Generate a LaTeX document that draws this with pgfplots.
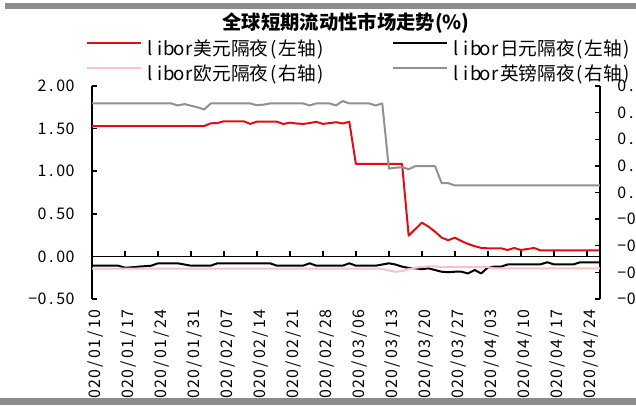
\documentclass[border=0pt]{standalone}
\usepackage{pgfplots}
\pgfplotsset{compat=1.18}
\usepackage{pgfplotstable}
\usepackage{fontspec}
\setmainfont{Noto Sans CJK SC}
\definecolor{usdred}{RGB}{222,14,22}
\definecolor{eurpink}{RGB}{248,194,198}
\definecolor{gbpgray}{RGB}{145,145,145}
\definecolor{bargray}{RGB}{140,140,140}
\makeatletter
\newcommand\mono[2][7pt]{\@tfor\mono@c:=#2\do{\makebox[#1]{\mono@c}}}
\makeatother

\pgfplotstableread{
x usd jpy eur gbp
0 1.53 -0.109 -0.571 0.669
1 1.53 -0.109 -0.571 0.669
2 1.53 -0.109 -0.571 0.669
3 1.53 -0.109 -0.571 0.669
4 1.53 -0.109 -0.571 0.669
5 1.53 -0.133 -0.571 0.669
6 1.53 -0.128 -0.571 0.669
7 1.53 -0.120 -0.571 0.669
8 1.53 -0.115 -0.571 0.669
9 1.53 -0.109 -0.571 0.669
10 1.53 -0.081 -0.571 0.669
11 1.53 -0.081 -0.571 0.669
12 1.53 -0.081 -0.571 0.669
13 1.53 -0.081 -0.571 0.654
14 1.53 -0.095 -0.571 0.664
15 1.53 -0.109 -0.571 0.652
16 1.53 -0.109 -0.571 0.640
17 1.53 -0.109 -0.571 0.624
18 1.562 -0.109 -0.571 0.669
19 1.565 -0.081 -0.571 0.669
20 1.586 -0.081 -0.571 0.669
21 1.586 -0.081 -0.571 0.669
22 1.586 -0.081 -0.571 0.669
23 1.586 -0.081 -0.571 0.669
24 1.555 -0.081 -0.571 0.669
25 1.582 -0.081 -0.571 0.656
26 1.582 -0.081 -0.571 0.660
27 1.582 -0.081 -0.571 0.669
28 1.582 -0.109 -0.571 0.669
29 1.554 -0.109 -0.571 0.669
30 1.570 -0.109 -0.571 0.669
31 1.560 -0.109 -0.571 0.669
32 1.555 -0.109 -0.571 0.669
33 1.565 -0.081 -0.571 0.654
34 1.580 -0.109 -0.571 0.669
35 1.555 -0.109 -0.571 0.669
36 1.565 -0.109 -0.571 0.669
37 1.575 -0.109 -0.571 0.654
38 1.560 -0.109 -0.571 0.687
39 1.580 -0.081 -0.571 0.669
40 1.085 -0.109 -0.571 0.669
41 1.085 -0.109 -0.571 0.669
42 1.085 -0.109 -0.571 0.669
43 1.085 -0.109 -0.571 0.654
44 1.085 -0.095 -0.575 0.669
45 1.085 -0.081 -0.585 0.180
46 1.085 -0.095 -0.595 0.186
47 1.085 -0.120 -0.590 0.190
48 0.243 -0.135 -0.575 0.175
49 0.320 -0.140 -0.565 0.198
50 0.396 -0.150 -0.560 0.198
51 0.350 -0.140 -0.555 0.198
52 0.290 -0.160 -0.555 0.198
53 0.220 -0.180 -0.560 0.070
54 0.190 -0.185 -0.560 0.070
55 0.220 -0.180 -0.560 0.053
56 0.180 -0.180 -0.560 0.053
57 0.146 -0.200 -0.560 0.053
58 0.120 -0.160 -0.560 0.053
59 0.100 -0.200 -0.560 0.053
60 0.095 -0.130 -0.560 0.053
61 0.095 -0.120 -0.570 0.053
62 0.095 -0.120 -0.570 0.053
63 0.075 -0.095 -0.570 0.053
64 0.099 -0.093 -0.570 0.053
65 0.075 -0.093 -0.570 0.053
66 0.087 -0.093 -0.570 0.053
67 0.099 -0.093 -0.570 0.053
68 0.070 -0.093 -0.570 0.053
69 0.070 -0.069 -0.570 0.053
70 0.070 -0.093 -0.570 0.053
71 0.070 -0.093 -0.570 0.053
72 0.070 -0.093 -0.570 0.053
73 0.070 -0.093 -0.570 0.053
74 0.070 -0.069 -0.570 0.053
75 0.070 -0.069 -0.570 0.053
76 0.070 -0.069 -0.570 0.053
77 0.070 -0.069 -0.570 0.053
}\rates

\begin{document}
\begin{tikzpicture}[x=0.75pt,y=0.75pt]
\begin{scope}
\clip (0,8) rectangle (636,405);
\begin{axis}[
  at={(69pt,79.5pt)}, anchor=south west,
  scale only axis, width=381pt, height=159.75pt,
  xmin=0, xmax=77, ymin=-0.5, ymax=2,
  axis y line*=left, axis x line*=bottom,
  x axis line style={draw=none},
  y axis line style={line width=1.1pt,-},
  tick align=inside, major tick length=4pt,
  xtick={0,5,...,75},
  xtick style={draw=none},
  xticklabels={{\mono[7.5pt]{2020/01/10}},{\mono[7.5pt]{2020/01/17}},{\mono[7.5pt]{2020/01/24}},{\mono[7.5pt]{2020/01/31}},{\mono[7.5pt]{2020/02/07}},{\mono[7.5pt]{2020/02/14}},{\mono[7.5pt]{2020/02/21}},{\mono[7.5pt]{2020/02/28}},{\mono[7.5pt]{2020/03/06}},{\mono[7.5pt]{2020/03/13}},{\mono[7.5pt]{2020/03/20}},{\mono[7.5pt]{2020/03/27}},{\mono[7.5pt]{2020/04/03}},{\mono[7.5pt]{2020/04/10}},{\mono[7.5pt]{2020/04/17}},{\mono[7.5pt]{2020/04/24}}},
  xticklabel style={xshift=3pt, rotate=90, anchor=east, inner sep=0pt, font=\fontsize{12}{12}\selectfont},
  xticklabel shift=7.5pt,
  ytick={-0.5,0,0.5,1,1.5,2},
  yticklabels={{\mono{−0.50}},{\mono{0.00}},{\mono{0.50}},{\mono{1.00}},{\mono{1.50}},{\mono{2.00}}},
  ytick style={line width=1.1pt, black},
  yticklabel style={anchor=east, inner sep=0pt, font=\fontsize{12}{12}\selectfont},
  yticklabel shift=12.75pt,
  legend columns=2,
  legend style={at={(axis description cs:-0.0118,1.219)}, anchor=north west, draw=none, fill=none, inner sep=0pt,
    font=\fontsize{14}{14}\selectfont,
    nodes={inner sep=0pt, text height=12pt, text depth=3.75pt},
    row sep=3pt,
    /tikz/every odd column/.append style={column sep=2.3pt},
    /tikz/every even column/.append style={column sep=50.25pt}},
  legend image code/.code={\draw[#1, line width=1.5pt] (0pt,5pt) -- (40.5pt,5pt);},
]
\addplot[usdred, line width=1.5pt, line join=round] table[x=x,y=usd]{\rates};
\addlegendentry{\mono[7.3pt]{libor}美元隔夜\mono[7.3pt]{(}左轴\mono[7.3pt]{)}}
\addplot[black, line width=1.5pt, line join=round] table[x=x,y=jpy]{\rates};
\addlegendentry{\mono[7.3pt]{libor}日元隔夜\mono[7.3pt]{(}左轴\mono[7.3pt]{)}}
\addlegendimage{eurpink, line width=1.5pt}
\addlegendentry{\mono[7.3pt]{libor}欧元隔夜\mono[7.3pt]{(}右轴\mono[7.3pt]{)}}
\addlegendimage{gbpgray, line width=1.5pt}
\addlegendentry{\mono[7.3pt]{libor}英镑隔夜\mono[7.3pt]{(}右轴\mono[7.3pt]{)}}
\draw[line width=1.1pt] (axis cs:0,0) -- (axis cs:77,0);
\pgfplotsinvokeforeach{5,10,15,20,25,30,35,40,45,50,55,60,65,70,75}{
  \draw[line width=1.1pt] (axis cs:#1,0) -- ++(0pt,4pt);
}
\end{axis}
\begin{axis}[
  at={(69pt,79.5pt)}, anchor=south west,
  scale only axis, width=381pt, height=159.75pt,
  xmin=0, xmax=77, ymin=-0.8, ymax=0.8,
  hide x axis,
  axis y line*=right,
  y axis line style={line width=1.1pt,-},
  tick align=inside, major tick length=4pt,
  ytick={-0.8,-0.6,-0.4,-0.2,0,0.2,0.4,0.6,0.8},
  yticklabels={{\mono{−0.80}},{\mono{−0.60}},{\mono{−0.40}},{\mono{−0.20}},{\mono{0.00}},{\mono{0.20}},{\mono{0.40}},{\mono{0.60}},{\mono{0.80}}},
  ytick style={line width=1.1pt, black},
  yticklabel style={anchor=west, inner sep=0pt, font=\fontsize{12}{12}\selectfont},
  yticklabel shift=12.75pt,
]
\addplot[eurpink, line width=1.5pt, line join=round] table[x=x,y=eur]{\rates};
\addplot[gbpgray, line width=1.5pt, line join=round] table[x=x,y=gbp]{\rates};
\end{axis}
\end{scope}
\node[inner sep=0pt, font=\fontsize{14.5}{14.5}\selectfont\bfseries] at (346,382) {全球短期流动性市场走势(\%)};
\fill[bargray] (5,396) rectangle (636,402);
\fill[bargray] (0,0) rectangle (636,7);
\pgfresetboundingbox
\path[use as bounding box] (0,0) rectangle (636,405);
\end{tikzpicture}
\end{document}
